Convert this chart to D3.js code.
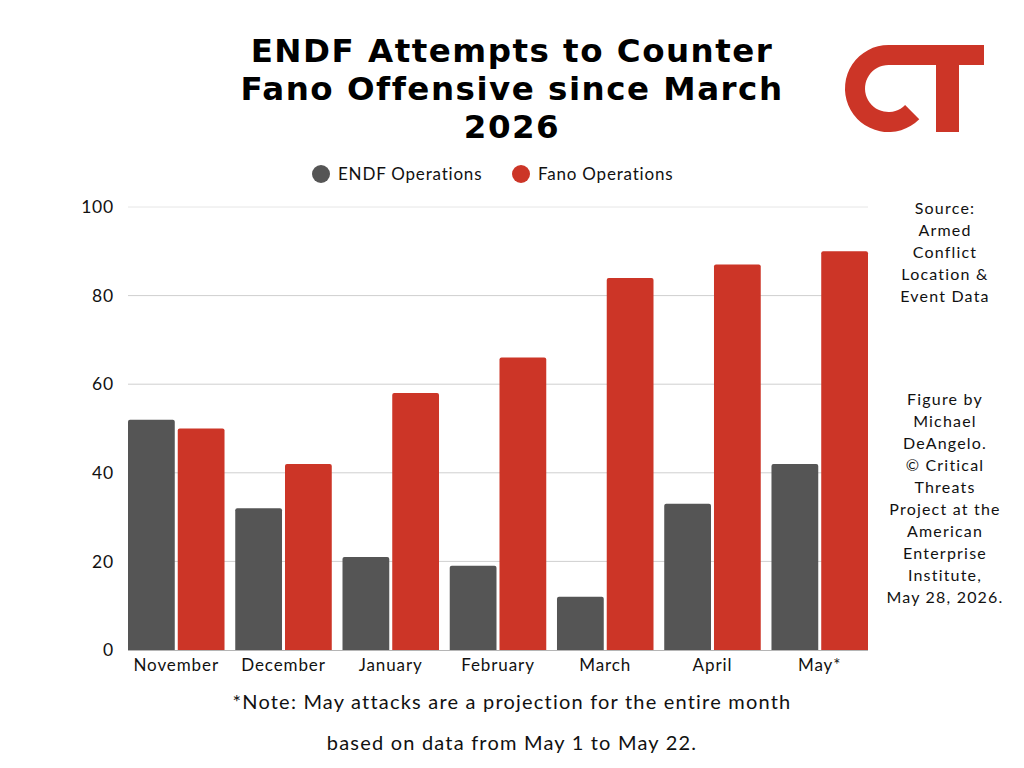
<!DOCTYPE html>
<html>
<head>
<meta charset="utf-8">
<script src="https://cdn.jsdelivr.net/npm/d3@7"></script>
<style>
  body { margin: 0; background: #fff; }
  svg { display: block; font-family: "Lato", "Noto Sans", sans-serif; }
</style>
</head>
<body>
<svg id="chart" width="1024" height="768"></svg>
<script>
// Data
const months = ["November", "December", "January", "February", "March", "April", "May*"];
const seriesNames = ["ENDF Operations", "Fano Operations"];
const endfOps = [52, 32, 21, 19, 12, 33, 42];
const fanoOps = [50, 42, 58, 66, 84, 87, 90];
const yTicks = [0, 20, 40, 60, 80, 100];
const titleLines = ["ENDF Attempts to Counter", "Fano Offensive since March", "2026"];
const sourceLines = ["Source:", "Armed", "Conflict", "Location &", "Event Data"];
const creditLines = ["Figure by", "Michael", "DeAngelo.", "\u00a9 Critical", "Threats", "Project at the", "American", "Enterprise", "Institute,", "May 28, 2026."];
const noteLines = ["*Note: May attacks are a projection for the entire month", "based on data from May 1 to May 22."];

const colors = { "ENDF Operations": "#555555", "Fano Operations": "#cc3527" };

const svg = d3.select("#chart");

const margin = { left: 128, right: 868, top: 207, bottom: 650 };

const x0 = d3.scaleBand()
    .domain(months)
    .range([margin.left, margin.right])
    .paddingInner(0.1)
    .paddingOuter(0);

const x1 = d3.scaleBand()
    .domain(seriesNames)
    .range([0, x0.bandwidth()])
    .paddingInner(0.06);

const y = d3.scaleLinear()
    .domain([0, 100])
    .range([margin.bottom, margin.top]);

// Gridlines
svg.append("g")
    .selectAll("line")
    .data(yTicks.filter(d => d > 0))
    .enter()
    .append("line")
    .attr("x1", margin.left)
    .attr("x2", margin.right)
    .attr("y1", d => y(d))
    .attr("y2", d => y(d))
    .attr("stroke", d => d === 100 ? "#e6e6e6" : "#cfcfcf")
    .attr("stroke-width", 1);

// Y tick labels
svg.append("g")
    .selectAll("text")
    .data(yTicks)
    .enter()
    .append("text")
    .attr("x", 114)
    .attr("y", d => y(d))
    .attr("dy", "0.35em")
    .attr("text-anchor", "end")
    .attr("font-size", 17.5)
    .attr("letter-spacing", "0.8px")
    .attr("fill", "#111")
    .text(d => d);

// Bars
const rows = months.map((m, i) => ({ month: m, values: [endfOps[i], fanoOps[i]] }));

const groups = svg.append("g")
    .selectAll("g")
    .data(rows)
    .enter()
    .append("g")
    .attr("transform", d => `translate(${x0(d.month)},0)`);

groups.selectAll("path")
    .data(d => d.values.map((v, k) => ({ key: seriesNames[k], value: v })))
    .enter()
    .append("path")
    .attr("fill", d => colors[d.key])
    .attr("d", d => {
        const bx = x1(d.key), bw = x1.bandwidth();
        const top = y(d.value), bot = y(0), r = 2;
        return `M${bx},${bot} L${bx},${top + r} Q${bx},${top} ${bx + r},${top} L${bx + bw - r},${top} Q${bx + bw},${top} ${bx + bw},${top + r} L${bx + bw},${bot} Z`;
    });

// Baseline
svg.append("line")
    .attr("x1", margin.left)
    .attr("x2", margin.right)
    .attr("y1", y(0) + 0.5)
    .attr("y2", y(0) + 0.5)
    .attr("stroke", "#b5b5b5")
    .attr("stroke-width", 1);

// X labels
svg.append("g")
    .selectAll("text")
    .data(months)
    .enter()
    .append("text")
    .attr("x", d => x0(d) + x0.bandwidth() / 2)
    .attr("y", 671)
    .attr("text-anchor", "middle")
    .attr("font-size", 17)
    .attr("letter-spacing", "0.9px")
    .attr("fill", "#111")
    .text(d => d);

// Title
svg.append("g")
    .selectAll("text")
    .data(titleLines)
    .enter()
    .append("text")
    .attr("x", 512)
    .attr("y", (d, i) => 62 + i * 38)
    .attr("text-anchor", "middle")
    .attr("font-family", "'DejaVu Sans', sans-serif")
    .attr("font-size", 32.5)
    .attr("font-weight", 700)
    .attr("letter-spacing", "1.5px")
    .attr("fill", "#000")
    .text(d => d);

// Legend
const legendX = [321, 521];
const legend = svg.append("g")
    .selectAll("g")
    .data(seriesNames)
    .enter()
    .append("g")
    .attr("transform", (d, i) => `translate(${legendX[i]},174)`);

legend.append("circle")
    .attr("r", 9)
    .attr("fill", d => colors[d]);

legend.append("text")
    .attr("x", 17)
    .attr("dy", "0.35em")
    .attr("font-size", 17)
    .attr("letter-spacing", "0.8px")
    .attr("fill", "#111")
    .text(d => d);

// Side notes
function sideText(lines, startY) {
    svg.append("g")
        .selectAll("text")
        .data(lines)
        .enter()
        .append("text")
        .attr("x", 945)
        .attr("y", (d, i) => startY + i * 22)
        .attr("text-anchor", "middle")
        .attr("font-size", 16)
        .attr("letter-spacing", "1.2px")
        .attr("fill", "#111")
        .text(d => d);
}
sideText(sourceLines, 214);
sideText(creditLines, 405);

// Footnote
svg.append("g")
    .selectAll("text")
    .data(noteLines)
    .enter()
    .append("text")
    .attr("x", 512)
    .attr("y", (d, i) => 709 + i * 41)
    .attr("text-anchor", "middle")
    .attr("font-size", 20)
    .attr("letter-spacing", "1.2px")
    .attr("fill", "#111")
    .text(d => d);

// CT logo
const logo = svg.append("g").attr("fill", "#cc3527");
logo.append("path")
    .attr("transform", "translate(888.5,88.5)")
    .attr("d", d3.arc()
        .innerRadius(23.5)
        .outerRadius(43.5)
        .startAngle(Math.PI * 0.75)
        .endAngle(Math.PI * 2)());
logo.append("rect").attr("x", 888).attr("y", 45).attr("width", 96).attr("height", 20);
logo.append("rect").attr("x", 936).attr("y", 45).attr("width", 23).attr("height", 87);
</script>
</body>
</html>
